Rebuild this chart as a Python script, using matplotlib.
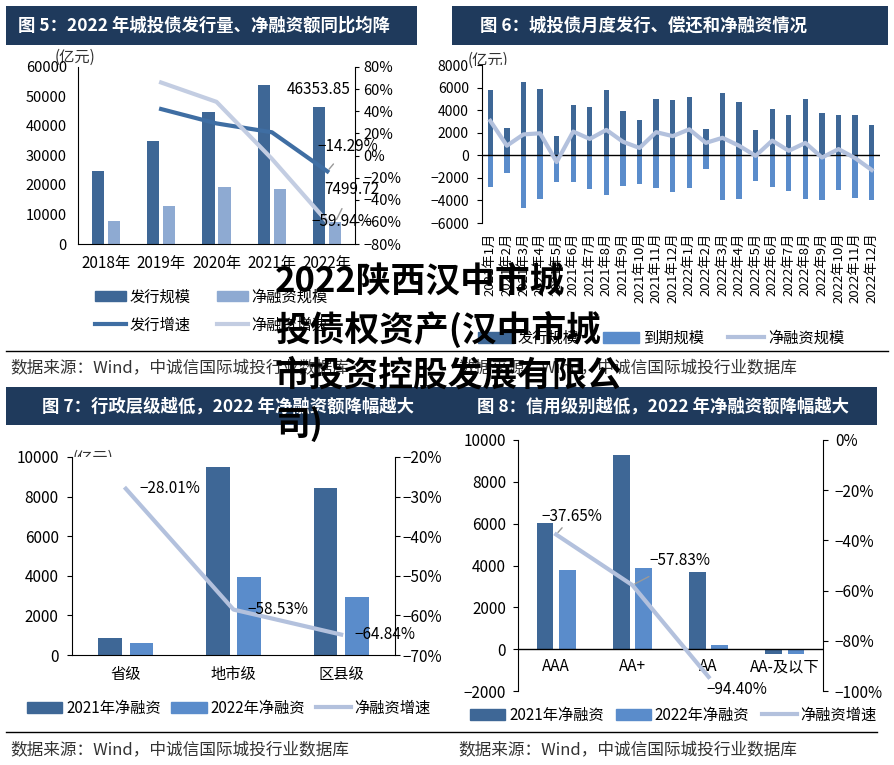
import numpy as np
import matplotlib.pyplot as plt
from matplotlib.patches import Patch, Rectangle
from matplotlib.lines import Line2D
import matplotlib.transforms as mtransforms

plt.rcParams['font.family'] = ['Noto Sans CJK SC', 'DejaVu Sans']

# ---------------- data ----------------
# fig 5: yearly issuance / net financing
years = ['2018年', '2019年', '2020年', '2021年', '2022年']
issue_amt = [24800, 35000, 44800, 54000, 46353.85]
net_amt = [7900, 13000, 19200, 18600, 7499.72]
issue_growth = [np.nan, 42.0, 29.0, 21.0, -14.29]
net_growth = [np.nan, 66.0, 48.5, -3.0, -59.94]

# fig 6: monthly issuance, repayment, net financing
months = [f'{y}年{m}月' for y in (2021, 2022) for m in range(1, 13)]
month_issue = [5800, 2400, 6500, 5850, 1700, 4500, 4300, 5750, 3950, 3150, 4950, 4900,
               5200, 2300, 5550, 4700, 2250, 4100, 3550, 4950, 3750, 3600, 3550, 2650]
month_repay = [-2800, -1550, -4700, -3900, -2350, -2400, -2950, -3500, -2750, -2500, -2900, -3250,
               -2900, -1200, -4000, -3850, -2300, -2850, -3200, -3850, -3950, -3100, -3800, -4000]
month_net = [3050, 850, 1850, 1950, -600, 2100, 1450, 2250, 1200, 650, 2050, 1700,
             2300, 1100, 1550, 850, -50, 1300, 400, 1100, -200, 550, -250, -1300]

# fig 7: by administrative level
levels = ['省级', '地市级', '区县级']
level_net21 = [855, 9480, 8430]
level_net22 = [605, 3940, 2945]
level_growth = [-28.01, -58.53, -64.84]

# fig 8: by credit rating
ratings = ['AAA', 'AA+', 'AA', 'AA-及以下']
rating_net21 = [6040, 9290, 3680, -220]
rating_net22 = [3780, 3900, 190, -230]
rating_growth = [-37.65, -57.83, -94.40, np.nan]

titles = ['图 5：2022 年城投债发行量、净融资额同比均降',
          '图 6：城投债月度发行、偿还和净融资情况',
          '图 7：行政层级越低，2022 年净融资额降幅越大',
          '图 8：信用级别越低，2022 年净融资额降幅越大']
source = '数据来源：Wind，中诚信国际城投行业数据库'
headline = ['2022陕西汉中市城', '投债权资产(汉中市城', '市投资控股发展有限公', '司)']

# ---------------- style ----------------
NAVY = '#1f3a5c'
DARK = '#3e6796'
LIGHT5 = '#8eaad2'
LINE5_DARK = '#3f6ea3'
LINE5_LIGHT = '#c3cde2'
BLUE = '#5a8ccb'
LINE = '#b3c1dd'
W, H = 895, 765


def px_rect(x0, y0, x1, y1):
    # pixel box (top-left origin) -> figure fraction
    return [x0 / W, 1 - y1 / H, (x1 - x0) / W, (y1 - y0) / H]


def pct(v, pos=None):
    return f'{v:.0f}%'.replace('-', '−')


def leg(ax, handles, labels, x, y, ncol, hl, cs, ls=0.5):
    ax.legend(handles, labels, ncol=ncol, loc='center left',
              bbox_to_anchor=(x / W, 1 - y / H), bbox_transform=fig.transFigure,
              frameon=False, fontsize=11, borderpad=0, borderaxespad=0,
              handlelength=hl, handletextpad=0.25, columnspacing=cs, labelspacing=ls)


fig = plt.figure(figsize=(8.95, 7.65), dpi=100)

# background layer in pixel coords: title bars, rules, sources, units
bg = fig.add_axes([0, 0, 1, 1], zorder=-1)
bg.set_xlim(0, W)
bg.set_ylim(H, 0)
bg.axis('off')
for (x0, y0, x1, y1) in [(6, 6, 417, 45), (452, 6, 888, 45), (6, 387, 877, 425)]:
    bg.add_patch(Rectangle((x0, y0), x1 - x0, y1 - y0, color=NAVY, lw=0))
for t, (tx, ty) in zip(titles, [(18, 26), (480, 26), (42, 407), (477, 407)]):
    bg.text(tx, ty, t, color='white', fontsize=12.5, fontweight='bold', va='center')
bg.plot([6, 888], [351, 351], color='black', lw=1)
bg.plot([6, 877], [732, 732], color='black', lw=1)
for sx, sy in [(10, 368), (458, 368), (10, 750), (458, 750)]:
    bg.text(sx, sy, source, fontsize=12, color='#333333', va='center')
for ux, uy, u in [(55, 57, '(亿元)'), (468, 60, '(亿元)'), (73, 458, '(亿元)'), (523, 452, '亿元')]:
    bg.text(ux, uy, u, fontsize=11, color='#333333', va='center')

# ---------------- fig 5 ----------------
ax5 = fig.add_axes(px_rect(78, 67, 355, 244))
x = np.arange(len(years))
ax5.bar(x - 0.145, issue_amt, 0.22, color=DARK)
ax5.bar(x + 0.145, net_amt, 0.22, color=LIGHT5)
ax5.set_xlim(-0.5, len(years) - 0.5)
ax5.set_ylim(0, 60000)
ax5.set_yticks(np.arange(0, 60001, 10000))
ax5.set_xticks(x)
ax5.set_xticklabels(years)
ax5.tick_params(axis='y', length=0, pad=8, labelsize=10.5)
ax5.tick_params(axis='x', length=0, pad=8, labelsize=11)
for s in ['top', 'right']:
    ax5.spines[s].set_visible(False)
ax5r = ax5.twinx()
ax5r.plot(x, issue_growth, color=LINE5_DARK, lw=3)
ax5r.plot(x, net_growth, color=LINE5_LIGHT, lw=3)
ax5r.set_ylim(-80, 80)
ax5r.set_yticks(np.arange(-80, 81, 20))
ax5r.yaxis.set_major_formatter(pct)
ax5r.tick_params(axis='y', direction='out', length=3, pad=3, labelsize=10.5)
for s in ['top', 'left', 'bottom']:
    ax5r.spines[s].set_visible(False)
ax5.annotate(f'{issue_amt[4]:.2f}', xy=(4 - 0.145, issue_amt[4]), xytext=(-1, 18),
             textcoords='offset pixels', ha='center', va='center', fontsize=11)
ax5.annotate(f'{net_amt[4]:.2f}', xy=(4 + 0.145, net_amt[4]), xytext=(16, 32),
             textcoords='offset pixels', ha='center', va='center', fontsize=11,
             arrowprops=dict(arrowstyle='-', color='#999999', lw=1, shrinkA=6, shrinkB=2))
ax5r.annotate(pct(1, 0).replace('1%', f'{issue_growth[4]:.2f}%').replace('-', '−'),
              xy=(4, issue_growth[4]), xytext=(21, 25),
              textcoords='offset pixels', ha='center', va='center', fontsize=11,
              arrowprops=dict(arrowstyle='-', color='#999999', lw=1, shrinkA=6, shrinkB=2))
ax5r.annotate(f'{net_growth[4]:.2f}%'.replace('-', '−'), xy=(4, net_growth[4]), xytext=(15, 0),
              textcoords='offset pixels', ha='center', va='center', fontsize=11)
leg(ax5r,
    [Patch(color=DARK), Line2D([], [], color=LINE5_DARK, lw=3),
     Patch(color=LIGHT5), Line2D([], [], color=LINE5_LIGHT, lw=3)],
    ['发行规模', '发行增速', '净融资规模', '净融资增速'],
    95, 311, 2, 2.0, 1.75, ls=0.75)

# ---------------- fig 6 ----------------
ax6 = fig.add_axes(px_rect(482, 65, 880, 223))
xm = np.arange(len(months))
ax6.bar(xm, month_issue, 0.32, color=DARK)
ax6.bar(xm, month_repay, 0.32, color=BLUE)
ax6.axhline(0, color='black', lw=1, zorder=3)
ax6.plot(xm, month_net, color=LINE, lw=3, zorder=4)
ax6.set_xlim(-0.5, len(months) - 0.5)
ax6.set_ylim(-6000, 8000)
ax6.set_yticks(np.arange(-6000, 8001, 2000))
ax6.set_xticks(xm)
ax6.set_xticklabels(months, rotation=90, va='top', ha='center', fontsize=9.5)
ax6.tick_params(axis='x', length=0, pad=7)
ax6.tick_params(axis='y', direction='out', length=3.5, pad=6, labelsize=10)
for s in ['top', 'right', 'bottom']:
    ax6.spines[s].set_visible(False)
leg(ax6,
    [Patch(color=DARK), Patch(color=BLUE), Line2D([], [], color=LINE, lw=3)],
    ['发行规模', '到期规模', '净融资规模'],
    478, 338, 3, 2.35, 1.6)

# ---------------- fig 7 ----------------
ax7 = fig.add_axes(px_rect(72, 457, 395, 655))
xl = np.arange(len(levels))
ax7.bar(xl - 0.145, level_net21, 0.22, color=DARK)
ax7.bar(xl + 0.145, level_net22, 0.22, color=BLUE)
ax7.set_xlim(-0.5, len(levels) - 0.5)
ax7.set_ylim(0, 10000)
ax7.set_yticks(np.arange(0, 10001, 2000))
ax7.set_xticks(xl)
ax7.set_xticklabels(levels)
ax7.tick_params(axis='x', length=0, pad=8, labelsize=11)
ax7.tick_params(axis='y', direction='out', length=3.5, pad=6, labelsize=11)
for s in ['top', 'right']:
    ax7.spines[s].set_visible(False)
ax7r = ax7.twinx()
ax7r.plot(xl, level_growth, color=LINE, lw=3)
ax7r.set_ylim(-70, -20)
ax7r.set_yticks(np.arange(-70, -19, 10))
ax7r.yaxis.set_major_formatter(pct)
ax7r.tick_params(axis='y', direction='out', length=3.5, pad=2, labelsize=11)
for s in ['top', 'left', 'bottom']:
    ax7r.spines[s].set_visible(False)
for i, g in enumerate(level_growth):
    ax7r.annotate(f'{g:.2f}%'.replace('-', '−'), xy=(i, g), xytext=(44, 0),
                  textcoords='offset pixels', ha='center', va='center', fontsize=11)
leg(ax7r,
    [Patch(color=DARK), Patch(color=BLUE), Line2D([], [], color=LINE, lw=3)],
    ['2021年净融资', '2022年净融资', '净融资增速'],
    27, 708, 3, 2.3, 0.7)

# ---------------- fig 8 ----------------
ax8 = fig.add_axes(px_rect(518, 440, 823, 691))
xr = np.arange(len(ratings))
ax8.bar(xr - 0.145, rating_net21, 0.22, color=DARK)
ax8.bar(xr + 0.145, rating_net22, 0.22, color=BLUE)
ax8.axhline(0, color='black', lw=1)
ax8.set_xlim(-0.5, len(ratings) - 0.5)
ax8.set_ylim(-2000, 10000)
ax8.set_yticks(np.arange(-2000, 10001, 2000))
ax8.set_xticks([])
ax8.tick_params(axis='y', direction='out', length=3.5, pad=5, labelsize=11)
for s in ['top', 'right', 'bottom']:
    ax8.spines[s].set_visible(False)
lab_tf = mtransforms.blended_transform_factory(ax8.transData, ax8.transAxes)
for i, r in enumerate(ratings):
    ax8.text(i, 0.096, r, transform=lab_tf, ha='center', va='center', fontsize=11)
ax8r = ax8.twinx()
ax8r.plot(xr, rating_growth, color=LINE, lw=3)
ax8r.set_ylim(-100, 0)
ax8r.set_yticks(np.arange(-100, 1, 20))
ax8r.yaxis.set_major_formatter(pct)
ax8r.tick_params(axis='y', direction='out', length=3.5, pad=5, labelsize=11)
for s in ['top', 'left', 'bottom']:
    ax8r.spines[s].set_visible(False)
for i, off, lead in [(0, (16, 18), True), (1, (48, 25), True), (2, (28, -13), False)]:
    ap = dict(arrowstyle='-', color='#999999', lw=1, shrinkA=8, shrinkB=2) if lead else None
    ax8r.annotate(f'{rating_growth[i]:.2f}%'.replace('-', '−'), xy=(i, rating_growth[i]),
                  xytext=off, textcoords='offset pixels', ha='center', va='center',
                  fontsize=11, arrowprops=ap)
leg(ax8r,
    [Patch(color=DARK), Patch(color=BLUE), Line2D([], [], color=LINE, lw=3)],
    ['2021年净融资', '2022年净融资', '净融资增速'],
    470, 715, 3, 2.3, 0.8)

# ---------------- overlaid headline ----------------
for line, ly in zip(headline, [281, 329, 375, 424]):
    fig.text(275 / W, 1 - ly / H, line, fontsize=25, fontweight='bold', color='black',
             va='center', ha='left', zorder=20)

fig.savefig('out.png', dpi=100)
